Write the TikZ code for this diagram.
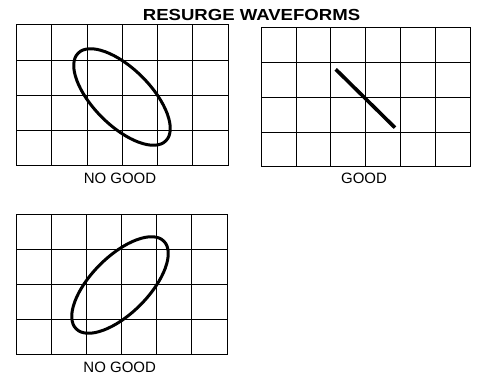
\documentclass[tikz,border=0pt]{standalone}
\usepackage{fontspec}
\setmainfont{Liberation Sans}
\usetikzlibrary{positioning,shapes.geometric}

\tikzset{
  screen/.style={draw, line width=1.4pt, inner sep=0pt, outer sep=0pt,
                 anchor=south west, minimum width=#1},
  gridline/.style={line width=1.4pt},
  trace/.style={line width=3pt},
  caption/.style={font=\fontsize{15}{15}\selectfont, inner sep=0pt}
}

\begin{document}
\begin{tikzpicture}[x=1pt, y=1pt]
\useasboundingbox (0,0) rectangle (478,377);
% title
\node[font=\bfseries\fontsize{16}{16}\selectfont, inner sep=0pt,
      transform shape, xscale=1.16] (title) at (251.5,362) {RESURGE WAVEFORMS};
% screen 1 (no good, tilted down)
\node[screen=212pt, minimum height=141pt] (scr1) at (16.5,211.5) {};
\foreach \x in {51.5,87.5,122.5,157.5,192.5}
  \draw[gridline] (\x,0 |- scr1.south) -- (\x,0 |- scr1.north);
\foreach \y in {246.5,281.5,316.5}
  \draw[gridline] (scr1.west |- 0,\y) -- (scr1.east |- 0,\y);
\node[trace, draw, ellipse, minimum width=124pt, minimum height=57pt,
      rotate=-45, inner sep=0pt] (ell1) at (122,280) {};
\node[caption] (lbl1) at (120,198.7) {NO GOOD};
% screen 2 (good, straight line)
\node[screen=209pt, minimum height=139pt] (scr2) at (261.5,210.5) {};
\foreach \x in {296.5,330.5,365.5,400.5,435.5}
  \draw[gridline] (\x,0 |- scr2.south) -- (\x,0 |- scr2.north);
\foreach \y in {244.5,279.5,314.5}
  \draw[gridline] (scr2.west |- 0,\y) -- (scr2.east |- 0,\y);
\coordinate (tr1) at (335.7,307.7);
\coordinate (tr2) at (395,249.3);
\draw[line width=3.6pt] (tr1) -- (tr2);
\node[caption] (lbl2) at (364,198.7) {GOOD};
% screen 3 (no good, tilted up)
\node[screen=211pt, minimum height=140pt] (scr3) at (16.5,22.5) {};
\foreach \x in {51.5,86.5,121.5,156.5,191.5}
  \draw[gridline] (\x,0 |- scr3.south) -- (\x,0 |- scr3.north);
\foreach \y in {57.5,92.5,127.5}
  \draw[gridline] (scr3.west |- 0,\y) -- (scr3.east |- 0,\y);
\node[trace, draw, ellipse, minimum width=124pt, minimum height=57pt,
      rotate=45, inner sep=0pt] (ell3) at (120,92) {};
\node[caption] (lbl3) at (119.7,9.5) {NO GOOD};
\end{tikzpicture}
\end{document}
